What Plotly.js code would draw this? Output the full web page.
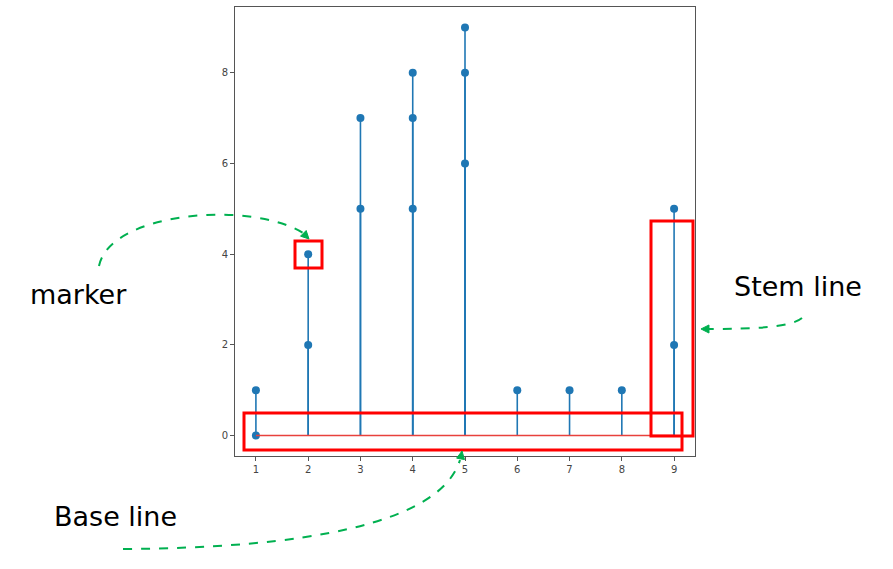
<!DOCTYPE html>
<html>
<head>
<meta charset="utf-8">
<script src="https://cdn.plot.ly/plotly-3.0.1.min.js"></script>
<style>html,body{margin:0;padding:0;background:#fff;}#chart{width:893px;height:569px;}</style>
</head>
<body>
<div id="chart"></div>
<script>
// Data
const stemX = [1, 1, 2, 2, 3, 3, 4, 4, 4, 5, 5, 5, 6, 7, 8, 9, 9];
const stemY = [1, 0, 2, 4, 5, 7, 5, 7, 8, 6, 8, 9, 1, 1, 1, 2, 5];
const baseX = [1, 9];
const baseY = [0, 0];
const xTicks = [1, 2, 3, 4, 5, 6, 7, 8, 9];
const yTicks = [0, 2, 4, 6, 8];
const labels = ["marker", "Stem line", "Base line"];

// build stem segments
const segX = [], segY = [];
stemX.forEach((x, i) => { segX.push(x, x, null); segY.push(0, stemY[i], null); });

const W = 893, H = 569, L = 235, R = 198, T = 7, B = 113;
const PW = W - L - R, PH = H - T - B;
const px = x => (x - L) / PW;
const py = y => (H - B - y) / PH;
const P = (x, y) => px(x).toFixed(4) + "," + py(y).toFixed(4);

function tri(tx, ty, fx, fy, len, half) {
  const dx = tx - fx, dy = ty - fy, d = Math.hypot(dx, dy);
  const ux = dx / d, uy = dy / d;
  const bx = tx - ux * len, by = ty - uy * len;
  return "M" + P(tx, ty) + " L" + P(bx - uy * half, by + ux * half) + " L" + P(bx + uy * half, by - ux * half) + " Z";
}

const green = "#00b050";
const red = "#ff0000";
const shapes = [
  // red highlight boxes
  {type: "rect", xref: "paper", yref: "paper", x0: px(295), x1: px(322), y0: py(268), y1: py(241), line: {color: red, width: 3}},
  {type: "rect", xref: "paper", yref: "paper", x0: px(651), x1: px(693), y0: py(436), y1: py(221), line: {color: red, width: 3}},
  {type: "rect", xref: "paper", yref: "paper", x0: px(244), x1: px(682), y0: py(450), y1: py(413), line: {color: red, width: 3}},
  // green dashed curved arrows
  {type: "path", xref: "paper", yref: "paper", path: "M" + P(99, 266) + " C" + P(110, 212) + " " + P(250, 200) + " " + P(303, 233), line: {color: green, width: 2, dash: "dash"}},
  {type: "path", xref: "paper", yref: "paper", fillcolor: green, line: {color: green, width: 1}, path: tri(309, 239, 300, 230, 8, 4)},
  {type: "path", xref: "paper", yref: "paper", path: "M" + P(802, 318) + " C" + P(790, 328) + " " + P(750, 329) + " " + P(708, 329), line: {color: green, width: 2, dash: "dash"}},
  {type: "path", xref: "paper", yref: "paper", fillcolor: green, line: {color: green, width: 1}, path: tri(701, 329, 712, 329, 8, 4)},
  {type: "path", xref: "paper", yref: "paper", path: "M" + P(123, 549) + " C" + P(300, 548) + " " + P(440, 525) + " " + P(460, 460), line: {color: green, width: 2, dash: "dash"}},
  {type: "path", xref: "paper", yref: "paper", fillcolor: green, line: {color: green, width: 1}, path: tri(462, 451, 460, 462, 8, 4)}
];

const hand = {family: "DejaVu Sans", size: 27, color: "#000"};
const annotations = [
  {text: labels[0], x: px(78), y: py(294), xref: "paper", yref: "paper", showarrow: false, xanchor: "center", yanchor: "middle", font: hand},
  {text: labels[1], x: px(798), y: py(286), xref: "paper", yref: "paper", showarrow: false, xanchor: "center", yanchor: "middle", font: hand},
  {text: labels[2], x: px(115), y: py(516), xref: "paper", yref: "paper", showarrow: false, xanchor: "center", yanchor: "middle", font: hand}
];

const traces = [
  {x: segX, y: segY, type: "scatter", mode: "lines", line: {color: "#1f77b4", width: 1.6}, hoverinfo: "skip"},
  {x: stemX, y: stemY, type: "scatter", mode: "markers", marker: {color: "#1f77b4", size: 8}},
  {x: baseX, y: baseY, type: "scatter", mode: "lines", line: {color: "#e8413c", width: 1.5}}
];

const axisCommon = {showgrid: false, zeroline: false, showline: true, mirror: true, linecolor: "#555", linewidth: 1,
  ticks: "outside", ticklen: 4, tickcolor: "#555", tickfont: {family: "DejaVu Sans", size: 10, color: "#444"}};

const layout = {
  width: W, height: H,
  margin: {l: L, r: R, t: T, b: B, pad: 0},
  paper_bgcolor: "#fff", plot_bgcolor: "#fff",
  showlegend: false,
  xaxis: Object.assign({}, axisCommon, {range: [0.6, 9.4], tickvals: xTicks, ticktext: xTicks.map(String)}),
  yaxis: Object.assign({}, axisCommon, {range: [-0.45, 9.45], tickvals: yTicks, ticktext: yTicks.map(String)}),
  shapes: shapes,
  annotations: annotations
};

Plotly.newPlot("chart", traces, layout, {displayModeBar: false, staticPlot: true});
</script>
</body>
</html>
